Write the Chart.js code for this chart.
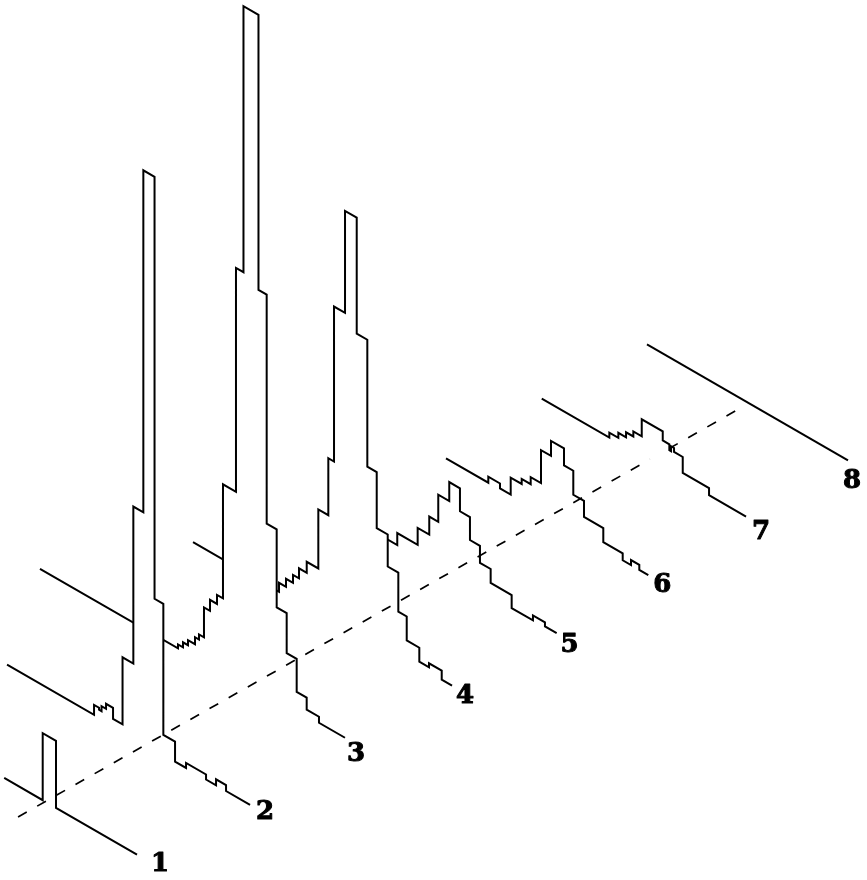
<!DOCTYPE html>
<html>
<head>
<meta charset="utf-8">
<script src="https://cdn.jsdelivr.net/npm/chart.js@4.4.0/dist/chart.umd.min.js"></script>
<style>
  html, body { margin: 0; padding: 0; background: #fff; }
  #wrap { width: 867px; height: 880px; }
</style>
</head>
<body>
<div id="wrap"><canvas id="myChart"></canvas></div>
<script>
// Staircase profiles, one per trace.
// posN = positions where the level changes (last one = end of trace)
// lvlN = level held from that position on
var pos1 = [-41, -2.5, 10.8, 91.8];
var lvl1 = [0, 67, 0];

var pos2 = [-138.7, -51.7, -46.7, -44.2, -39.7, -32.7, -23.2, -12.4, -2.4, 8.8, 17.6, 29.3, 40.3, 60.3, 70.3, 80.3, 104.3];
var lvl2 = [0, 10, 8, 13, 18, 7, 74, 231, 573, 151, 20, 0, 5, 0, 6, 0];

var pos3 = [-206.3, -68.3, -63.3, -58.3, -51.3, -47.3, -42.3, -36.3, -29.3, -23.3, -10.3, -2.8, 12.2, 20.4, 30.4, 40.4, 50.4, 60.4, 72.7, 98.7];
var lvl3 = [0, 4, 9, 14, 21, 26, 56, 67, 76, 190, 414, 680, 405, 176, 98, 58, 25, 13, 7];

var pos4 = [-153.8, -67.8, -60.8, -53.8, -47.8, -40.1, -28.5, -18.5, -12.8, -1.8, 9.9, 20.5, 29.9, 40.9, 51.5, 59.9, 72.5, 82.2, 94.9, 105.2];
var lvl4 = [0, 9, 17, 25, 35, 46, 105, 162, 317, 419, 303, 176, 120, 88, 49, 25, 11, 15, 6];

var pos5 = [-115.4, -50.1, -29.7, -18.1, -9.1, 1.9, 12.6, 22.6, 32.6, 43.3, 64.3, 85.6, 97.6, 109.3];
var lvl5 = [0, 12, 29, 47, 74, 93, 70, 47, 30, 16, 3, 8, 4];

var pos6 = [-101.9, -59.6, -47.9, -37.2, -26.2, -17.2, -6.9, 3.1, 16.1, 25.4, 36.1, 55.4, 74.8, 83.1, 91.4, 100.4];
var lvl6 = [0, 6, 1, 18, 23, 30, 63, 78, 61, 37, 21, 7, 0, 5, 0];

var pos7 = [-106.7, -39.1, -30.1, -22.4, -15.1, -6.7, 14.3, 20.9, 22.6, 25.6, 34.3, 60.6, 97.6];
var lvl7 = [0, 5, 10, 15, 20, 37, 28, 22, 27, 23, 7, 0];

var pos8 = [-102, 99];
var lvl8 = [0];

var traceNames = ['1', '2', '3', '4', '5', '6', '7', '8'];
var allPos = [pos1, pos2, pos3, pos4, pos5, pos6, pos7, pos8];
var allLvl = [lvl1, lvl2, lvl3, lvl4, lvl5, lvl6, lvl7, lvl8];

// dashed reference line, in trace-index units (from, break, to)
var axisSpan = [-0.27, 6.015, 6.9];

// oblique projection: trace k, position p, level h -> chart units
var ox = 45.2, oy = 78.4;     // trace 1, position 0, level 0
var dx = 100.54, dy = 56.9;   // shift to the next trace
var slant = 0.577;            // traces run down at 30 degrees

// where each number sits, relative to the end of its trace (px)
var labelShift = [[23, 10], [15, 7], [11, 17], [13, 11], [13, 12], [14, 10], [15, 16], [4, 21]];

function proj(k, p, h) {
  return { x: ox + k * dx + p, y: oy + k * dy - slant * p + h };
}

function stairs(k, pos, lvl) {
  var pts = [proj(k, pos[0], lvl[0])];
  for (var i = 1; i < pos.length - 1; i++) {
    pts.push(proj(k, pos[i], lvl[i - 1]));
    pts.push(proj(k, pos[i], lvl[i]));
  }
  pts.push(proj(k, pos[pos.length - 1], lvl[lvl.length - 1]));
  return pts;
}

var datasets = [];
for (var k = 0; k < allPos.length; k++) {
  datasets.push({
    label: traceNames[k],
    data: stairs(k, allPos[k], allLvl[k]),
    showLine: true,
    borderColor: '#000',
    borderWidth: 2,
    pointRadius: 0,
    tension: 0,
    fill: 'start',              // white curtain hides traces behind
    backgroundColor: '#fff',
    order: k + 1
  });
}

var dashLen = Math.sqrt(dx * dx + dy * dy) * (axisSpan[1] - axisSpan[0]);
// front part of the dashed line, drawn on top
datasets.push({
  label: 'axis',
  data: [proj(axisSpan[0], 0, 0), proj(axisSpan[1], 0, 0)],
  showLine: true,
  borderColor: '#000',
  borderWidth: 1.7,
  borderDash: [10, 12],
  pointRadius: 0,
  fill: false,
  order: 0
});
// back part, hidden by trace 7
datasets.push({
  label: 'axis back',
  data: [proj(axisSpan[1], 0, 0), proj(axisSpan[2], 0, 0)],
  showLine: true,
  borderColor: '#000',
  borderWidth: 1.7,
  borderDash: [10, 12],
  borderDashOffset: dashLen % 22,
  pointRadius: 0,
  fill: false,
  order: 7.5
});

// trace numbers at the end of each trace
var traceLabels = {
  id: 'traceLabels',
  afterDatasetsDraw: function(chart) {
    var ctx = chart.ctx;
    ctx.save();
    ctx.font = 'bold 26px "DejaVu Serif"';
    ctx.fillStyle = '#000';
    ctx.strokeStyle = '#000';
    ctx.lineWidth = 1;
    ctx.lineJoin = 'round';
    ctx.textAlign = 'center';
    ctx.textBaseline = 'middle';
    for (var i = 0; i < traceNames.length; i++) {
      var pts = chart.getDatasetMeta(i).data;
      var last = pts[pts.length - 1];
      var tx = last.x + labelShift[i][0];
      var ty = last.y + labelShift[i][1];
      ctx.fillText(traceNames[i], tx, ty);
      ctx.strokeText(traceNames[i], tx, ty); // heavier digits
    }
    ctx.restore();
  }
};

var ctx = document.getElementById('myChart').getContext('2d');
var myChart = new Chart(ctx, {
  type: 'scatter',
  data: { datasets: datasets },
  options: {
    animation: false,
    responsive: true,
    maintainAspectRatio: false,
    events: [],
    layout: { padding: 0 },
    scales: {
      x: { type: 'linear', min: 0, max: 867, display: false },
      y: { type: 'linear', min: 0, max: 880, display: false }
    },
    plugins: {
      legend: { display: false },
      tooltip: { enabled: false },
      filler: { propagate: false, drawTime: 'beforeDatasetDraw' }
    }
  },
  plugins: [traceLabels]
});
</script>
</body>
</html>
